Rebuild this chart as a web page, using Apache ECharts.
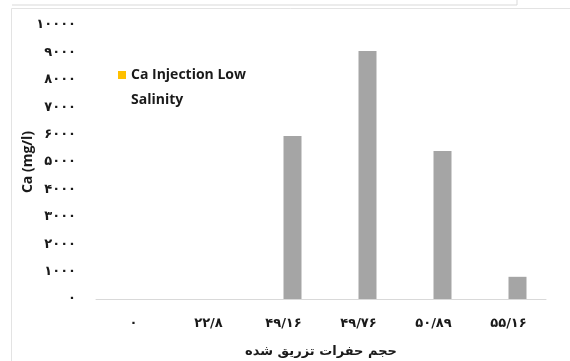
<!DOCTYPE html>
<html>
<head>
<meta charset="utf-8">
<script src="https://cdn.jsdelivr.net/npm/echarts@6/dist/echarts.min.js"></script>
<style>html,body{margin:0;padding:0;background:#fff}#c{width:570px;height:361px}</style>
</head>
<body>
<div id="c"></div>
<script>
var categories = ['۰', '۲۲/۸', '۴۹/۱۶', '۴۹/۷۶', '۵۰/۸۹', '۵۵/۱۶'];
var legendSeriesValues = [null, null, null, null, null, null];
var caValues = [0, 0, 5950, 9050, 5400, 810];
var yTickLabels = ['۰', '۱۰۰۰', '۲۰۰۰', '۳۰۰۰', '۴۰۰۰', '۵۰۰۰', '۶۰۰۰', '۷۰۰۰', '۸۰۰۰', '۹۰۰۰', '۱۰۰۰۰'];
var seriesName = 'Ca Injection Low Salinity';
var legendLine1 = 'Ca Injection Low';
var legendLine2 = 'Salinity';
var yName = 'Ca (mg/l)';
var xName = 'حجم حفرات تزریق شده';

var chart = echarts.init(document.getElementById('c'));
chart.setOption({
  animation: false,
  backgroundColor: '#ffffff',
  graphic: [
    { type: 'line', shape: { x1: 12, y1: 5, x2: 517, y2: 5 }, style: { stroke: '#d9d9d9', lineWidth: 1 } },
    { type: 'line', shape: { x1: 517, y1: 0, x2: 517, y2: 5 }, style: { stroke: '#d9d9d9', lineWidth: 1 } },
    { type: 'line', shape: { x1: 11.5, y1: 8.5, x2: 570, y2: 8.5 }, style: { stroke: '#e3e3e3', lineWidth: 1 } },
    { type: 'line', shape: { x1: 11.5, y1: 8.5, x2: 11.5, y2: 361 }, style: { stroke: '#e3e3e3', lineWidth: 1 } },
    { type: 'text', left: 131, top: 93, style: { text: legendLine2, fontFamily: 'Open Sans', fontWeight: 'bold', fontSize: 14, fill: '#1a1a1a' } }
  ],
  grid: { left: 96, right: 24, top: 25, bottom: 62, outerBoundsMode: 'none', containLabel: false },
  legend: {
    data: [seriesName],
    left: 113, top: 63,
    icon: 'rect', itemWidth: 8, itemHeight: 8, itemGap: 4,
    formatter: function () { return legendLine1; },
    textStyle: { fontFamily: 'Open Sans', fontWeight: 'bold', fontSize: 14, color: '#1a1a1a' }
  },
  xAxis: {
    type: 'category',
    data: categories,
    name: xName,
    nameLocation: 'middle',
    nameGap: 46,
    nameMoveOverlap: false,
    nameTextStyle: { fontFamily: 'DejaVu Sans', fontWeight: 'bold', fontSize: 13, color: '#1a1a1a' },
    axisLine: { lineStyle: { color: '#d9d9d9', width: 1 } },
    axisTick: { show: false },
    axisLabel: { margin: 18, fontFamily: 'DejaVu Sans', fontWeight: 'bold', fontSize: 13, color: '#1a1a1a' }
  },
  yAxis: {
    type: 'value',
    min: 0, max: 10000, interval: 1000,
    name: yName,
    nameLocation: 'middle',
    nameGap: 61,
    nameMoveOverlap: false,
    nameRotate: 90,
    nameTextStyle: { fontFamily: 'Open Sans', fontWeight: 'bold', fontSize: 14, color: '#1a1a1a' },
    axisLine: { show: false },
    axisTick: { show: false },
    splitLine: { show: false },
    axisLabel: {
      margin: 20,
      padding: [4, 0, 0, 0],
      fontFamily: 'DejaVu Sans', fontWeight: 'bold', fontSize: 13, color: '#1a1a1a',
      formatter: function (v) { return yTickLabels[Math.round(v / 1000)]; }
    }
  },
  series: [
    { name: seriesName, type: 'bar', data: legendSeriesValues, barWidth: 18, barGap: '0%', itemStyle: { color: '#FFC000' } },
    { name: 'gray', type: 'bar', data: caValues, barWidth: 18, itemStyle: { color: '#A5A5A5' } }
  ]
});
</script>
</body>
</html>
